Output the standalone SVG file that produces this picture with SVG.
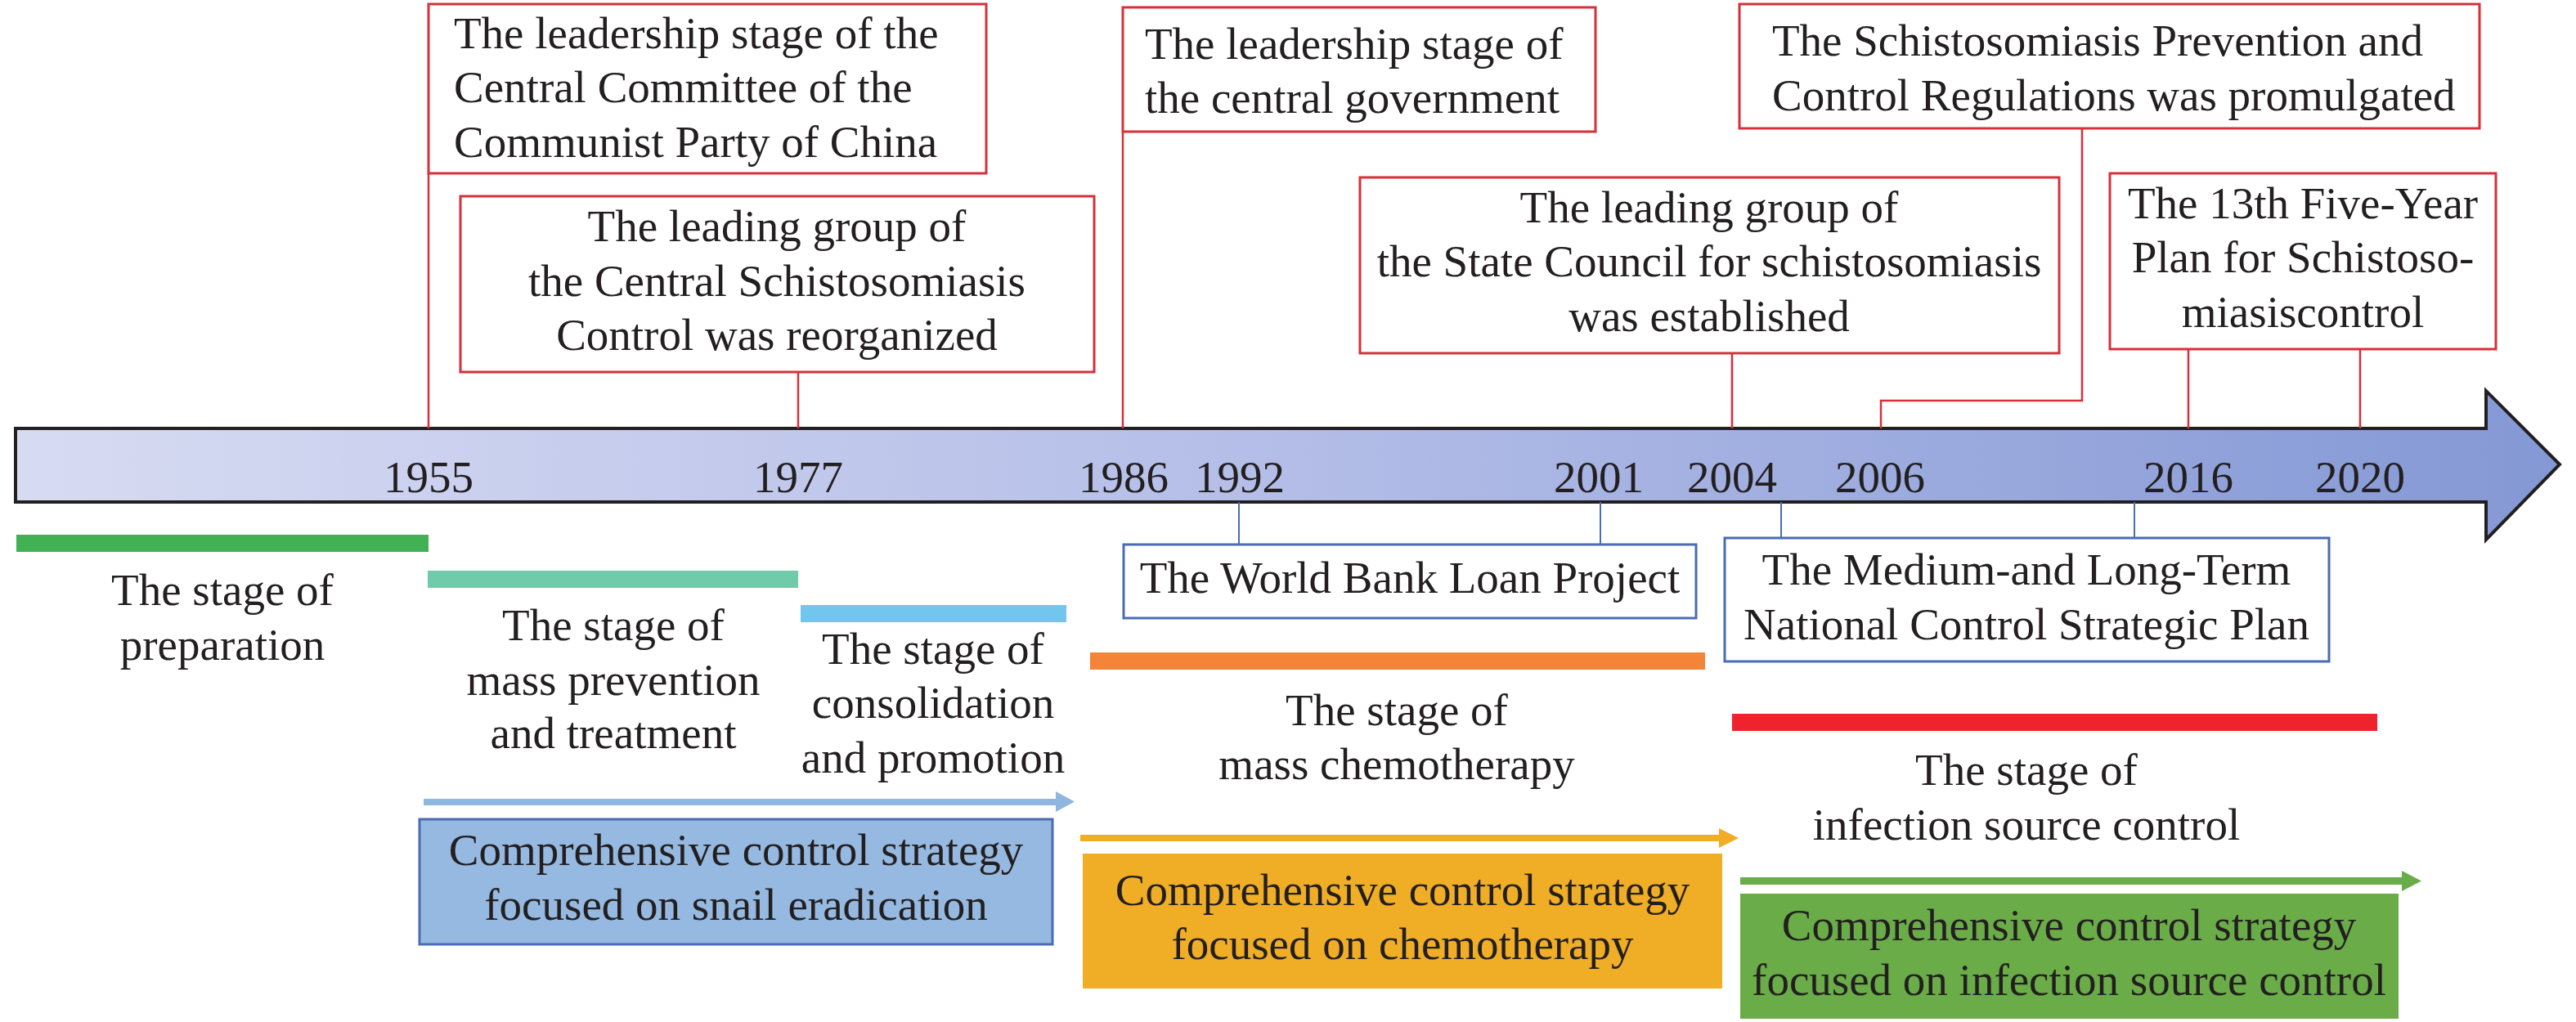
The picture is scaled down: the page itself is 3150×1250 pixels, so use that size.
<svg xmlns="http://www.w3.org/2000/svg" width="3150" height="1250" viewBox="0 0 3150 1250">
<defs>
<linearGradient id="tl" gradientUnits="userSpaceOnUse" x1="19" y1="0" x2="3130" y2="0">
<stop offset="0" stop-color="#d7dbf2"/>
<stop offset="0.5" stop-color="#b3bde7"/>
<stop offset="1" stop-color="#8498d5"/>
</linearGradient>
</defs>
<style>
text{font-family:"Liberation Serif","Times New Roman",serif;font-size:55px;fill:#231f20}
.c{text-anchor:middle}
.rb{fill:#fff;stroke:#d6303a;stroke-width:3}
.bb{fill:#fff;stroke:#4a6cb3;stroke-width:3}
.rl{stroke:#d6303a;stroke-width:2.5;fill:none}
.bl{stroke:#4a6cb3;stroke-width:2;fill:none}
</style>
<rect width="3150" height="1250" fill="#fff"/>

<g id="timeline">
<path d="M19,524 H3040 V478 L3130,568 L3040,660 V614 H19 Z" fill="url(#tl)" stroke="#231f20" stroke-width="4" stroke-linejoin="miter"/>
<g class="c">
<text x="524" y="602">1955</text>
<text x="976" y="602">1977</text>
<text x="1374" y="602">1986</text>
<text x="1516" y="602">1992</text>
<text x="1955" y="602">2001</text>
<text x="2118" y="602">2004</text>
<text x="2299" y="602">2006</text>
<text x="2676" y="602">2016</text>
<text x="2886" y="602">2020</text>
</g>
</g>

<g id="connectors">
<path class="rl" d="M524,212 V524"/>
<path class="rl" d="M976,455 V524"/>
<path class="rl" d="M1373,161 V524"/>
<path class="rl" d="M2118,432 V524"/>
<path class="rl" stroke-width="3" d="M2546,157 V490 H2300 V524"/>
<path class="rl" d="M2676,427 V524"/>
<path class="rl" d="M2886,427 V524"/>
<path class="bl" d="M1515,614 V666"/>
<path class="bl" d="M1957,614 V666"/>
<path class="bl" d="M2178,614 V658"/>
<path class="bl" d="M2610,614 V658"/>
</g>

<g id="node-ccp">
<rect class="rb" x="524" y="5" width="682" height="207"/>
<text x="555" y="59">The leadership stage of the</text>
<text x="555" y="125">Central Committee of the</text>
<text x="555" y="192">Communist Party of China</text>
</g>

<g id="node-central-group">
<rect class="rb" x="563" y="240" width="775" height="215"/>
<text class="c" x="950" y="295">The leading group of</text>
<text class="c" x="950" y="362">the Central Schistosomiasis</text>
<text class="c" x="950" y="428">Control was reorganized</text>
</g>

<g id="node-central-gov">
<rect class="rb" x="1373" y="9" width="578" height="152"/>
<text x="1400" y="72">The leadership stage of</text>
<text x="1400" y="138">the central government</text>
</g>

<g id="node-regulations">
<rect class="rb" x="2127" y="5" width="905" height="152"/>
<text x="2167" y="68">The Schistosomiasis Prevention and</text>
<text x="2167" y="135">Control Regulations was promulgated</text>
</g>

<g id="node-state-council">
<rect class="rb" x="1663" y="217" width="855" height="215"/>
<text class="c" x="2090" y="272">The leading group of</text>
<text class="c" x="2090" y="338">the State Council for schistosomiasis</text>
<text class="c" x="2090" y="405">was established</text>
</g>

<g id="node-13th-plan">
<rect class="rb" x="2580" y="212" width="472" height="215"/>
<text class="c" x="2816" y="267">The 13th Five-Year</text>
<text class="c" x="2816" y="333">Plan for Schistoso-</text>
<text class="c" x="2816" y="400">miasiscontrol</text>
</g>

<g id="node-world-bank">
<rect class="bb" x="1374" y="666" width="700" height="90"/>
<text class="c" x="1724" y="725">The World Bank Loan Project</text>
</g>

<g id="node-medium-long">
<rect class="bb" x="2109" y="658" width="739" height="151"/>
<text class="c" x="2478" y="715">The Medium-and Long-Term</text>
<text class="c" x="2478" y="782">National Control Strategic Plan</text>
</g>

<g id="stage-preparation">
<rect x="20" y="654" width="504" height="21" fill="#41b153"/>
<text class="c" x="272" y="740">The stage of</text>
<text class="c" x="272" y="807">preparation</text>
</g>

<g id="stage-mass-prevention">
<rect x="523" y="698" width="453" height="21" fill="#6fcba9"/>
<text class="c" x="750" y="783">The stage of</text>
<text class="c" x="750" y="850">mass prevention</text>
<text class="c" x="750" y="915">and treatment</text>
</g>

<g id="stage-consolidation">
<rect x="979" y="740" width="325" height="21" fill="#72c6ee"/>
<text class="c" x="1141" y="812">The stage of</text>
<text class="c" x="1141" y="878">consolidation</text>
<text class="c" x="1141" y="945">and promotion</text>
</g>

<g id="stage-chemotherapy">
<rect x="1333" y="798" width="752" height="21" fill="#f48538"/>
<text class="c" x="1708" y="887">The stage of</text>
<text class="c" x="1708" y="953">mass chemotherapy</text>
</g>

<g id="stage-infection">
<rect x="2118" y="873" width="789" height="21" fill="#ee232d"/>
<text class="c" x="2478" y="960">The stage of</text>
<text class="c" x="2478" y="1027">infection source control</text>
</g>

<g id="strategy-snail">
<path d="M518,977 H1291 V968 L1314,980.5 L1291,993 V985 H518 Z" fill="#8fb6de"/>
<rect x="513" y="1002" width="774" height="153" fill="#95b9e0" stroke="#4a6cb3" stroke-width="3"/>
<text class="c" x="900" y="1058">Comprehensive control strategy</text>
<text class="c" x="900" y="1125">focused on snail eradication</text>
</g>

<g id="strategy-chemo">
<path d="M1321,1021 H2102 V1013 L2126,1025 L2102,1037 V1029 H1321 Z" fill="#f0ad26"/>
<rect x="1324" y="1044" width="782" height="165" fill="#f0ad26"/>
<text class="c" x="1715" y="1107">Comprehensive control strategy</text>
<text class="c" x="1715" y="1173">focused on chemotherapy</text>
</g>

<g id="strategy-infection">
<path d="M2128,1073 H2937 V1065 L2961,1077.5 L2937,1090 V1082 H2128 Z" fill="#6aab4a"/>
<rect x="2128" y="1093" width="805" height="153" fill="#6aac48"/>
<text class="c" x="2530" y="1150">Comprehensive control strategy</text>
<text class="c" x="2530" y="1217">focused on infection source control</text>
</g>
</svg>
